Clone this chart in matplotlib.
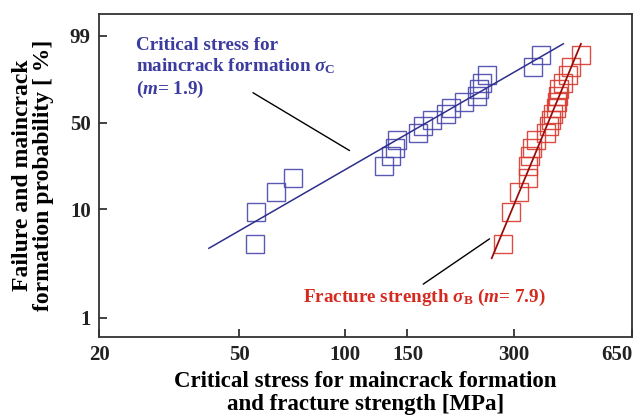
import numpy as np
import matplotlib
matplotlib.use('Agg')
from matplotlib import pyplot as plt

plt.rcParams['font.family'] = ['Liberation Serif', 'DejaVu Serif']
plt.rcParams['font.weight'] = 'bold'
plt.rcParams['mathtext.fontset'] = 'custom'
plt.rcParams['mathtext.rm'] = 'Liberation Serif:bold'
plt.rcParams['mathtext.it'] = 'Liberation Serif:italic:bold'
plt.rcParams['mathtext.bf'] = 'Liberation Serif:bold'

BLUE = '#3c3ca0'
BLUE_MARK = '#4848ac'
RED = '#d42a20'
RED_MARK = '#d8392f'

# failure probability [%] of each ranked specimen (same for both series)
prob = [4.8, 9.5, 14.3, 19.0, 23.8, 28.6, 33.3, 38.1, 42.9, 47.6,
        52.4, 57.1, 61.9, 66.7, 71.4, 76.2, 81.0, 85.7, 90.5, 95.2]

# critical stress for maincrack formation [MPa]
sigma_c = [55.3, 55.9, 63.4, 70.9, 129, 134.8, 137.8, 140.2, 160.4, 165.7,
           175.6, 193, 199, 217, 236, 239, 244, 252, 340, 359]

# fracture strength [MPa]
sigma_b = [279, 294, 311, 329, 330, 334, 338, 347, 370, 379,
           382, 389, 396, 397, 401, 403, 414, 428, 437, 466]

# Weibull fit lines (end points)
fit_c_x = [41.0, 415.0]
fit_c_p = [4.43, 97.9]
fit_b_x = [260.0, 465.6]
fit_b_p = [3.58, 97.9]

xticks = [20, 50, 100, 150, 300, 650]
yticks = [1, 10, 50, 99]


def weibull_fwd(p):
    p = np.clip(np.asarray(p, dtype=float), 1e-6, 99.99999)
    return np.log(-np.log(1 - p / 100.0))


def weibull_inv(w):
    return 100.0 * (1 - np.exp(-np.exp(w)))


fig = plt.figure(figsize=(6.41, 4.19), dpi=100)
ax = fig.add_axes([99 / 641, 1 - 337 / 419, 533 / 641, 323 / 419])

ax.set_xscale('log')
ax.set_yscale('function', functions=(weibull_fwd, weibull_inv))

ax.plot(sigma_c, prob, 's', ms=13, mfc='none', mec=BLUE_MARK, mew=1.0, alpha=0.9)
ax.plot(sigma_b, prob, 's', ms=13, mfc='none', mec=RED_MARK, mew=1.0, alpha=0.9)
ax.plot(fit_c_x, fit_c_p, '-', color='#2e2e8c', lw=1.1)
ax.plot(fit_b_x, fit_b_p, '-', color='#c01a14', lw=1.3)
ax.plot(fit_b_x, fit_b_p, '-', color='#400808', lw=0.6, alpha=0.6)

ax.set_xlim(20, 650)
ax.set_ylim(0.656, 99.938)
ax.set_xticks(xticks)
ax.set_xticklabels([str(t) for t in xticks])
ax.xaxis.set_minor_locator(matplotlib.ticker.NullLocator())
ax.set_yticks(yticks)
ax.set_yticklabels([str(t) for t in yticks])
ax.yaxis.set_minor_locator(matplotlib.ticker.NullLocator())
ax.tick_params(direction='in', length=6, width=1.2, labelsize=15, pad=6, colors='#222222')
ax.tick_params(axis='x', pad=6)
xlabels = ax.get_xticklabels()
xlabels[-1].set_ha('right')
xlabels[-1].set_x(1.0)

for side in ['top', 'right', 'bottom', 'left']:
    ax.spines[side].set_linewidth(1.3)
    ax.spines[side].set_color('#333333')

ax.set_xlabel('Critical stress for maincrack formation\nand fracture strength [MPa]',
              fontsize=16.5, fontweight='bold', linespacing=1.15, labelpad=4)
ax.set_ylabel('Failure and maincrack\nformation probability [ %]',
              fontsize=17, fontweight='bold', linespacing=1.02, labelpad=11)

ax.text(0.069, 0.93, 'Critical stress for\nmaincrack formation $\\sigma_{\\rm C}$\n($m$= 1.9)',
        transform=ax.transAxes, ha='left', va='top', fontsize=13.8,
        color=BLUE, fontweight='bold', linespacing=1.2)
ax.text(0.611, 0.124, 'Fracture strength $\\sigma_{\\rm B}$ ($m$= 7.9)',
        transform=ax.transAxes, ha='center', va='center', fontsize=13.8,
        color=RED, fontweight='bold')

ax.annotate('', xy=(0.4745, 0.5728), xytext=(0.2844, 0.7607),
            xycoords='axes fraction',
            arrowprops=dict(arrowstyle='-', color='black', lw=1.0))
ax.annotate('', xy=(0.737, 0.3087), xytext=(0.604, 0.1588),
            xycoords='axes fraction',
            arrowprops=dict(arrowstyle='-', color='black', lw=1.0))

fig.savefig('out.png', dpi=100)
